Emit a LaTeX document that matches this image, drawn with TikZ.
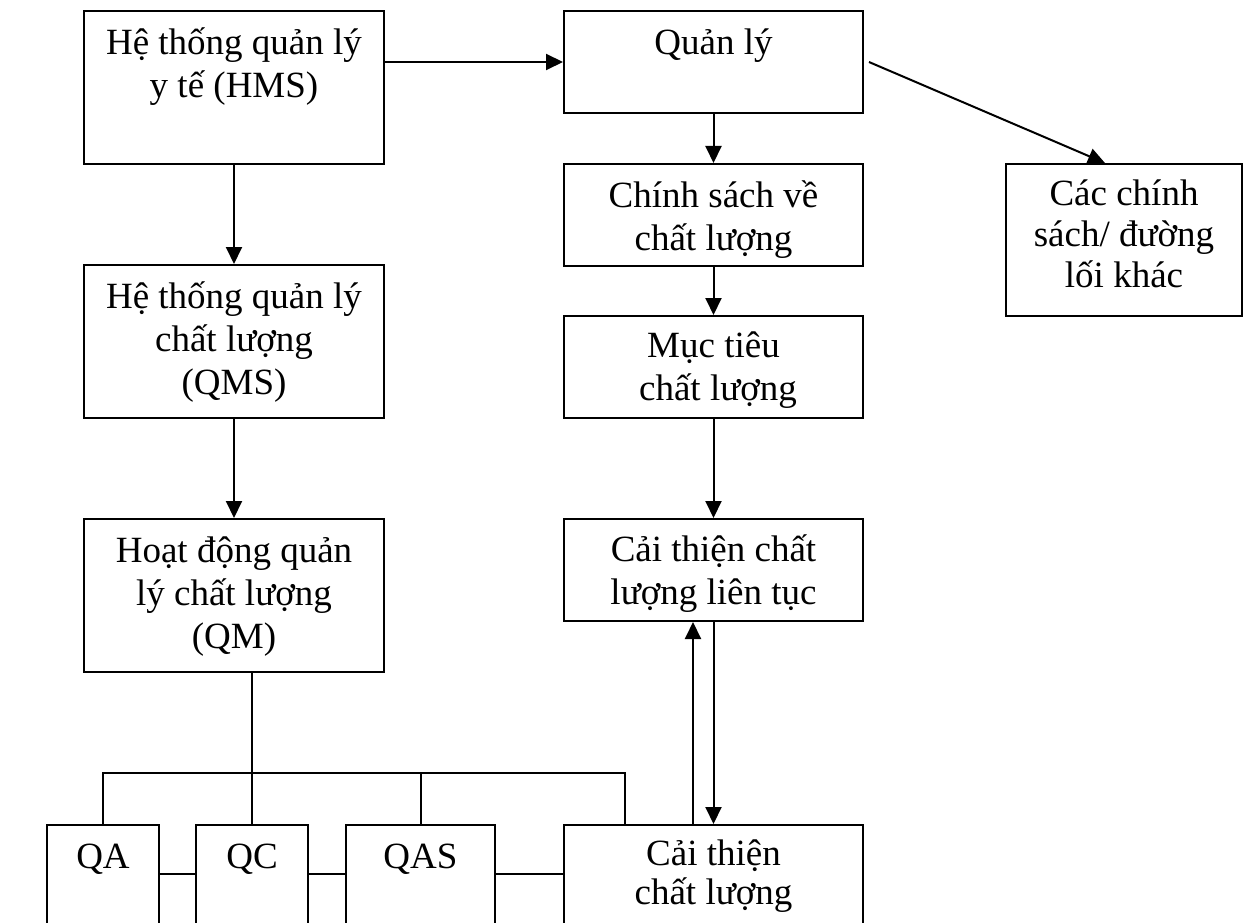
\documentclass[tikz,border=0pt]{standalone}
\usepackage{fontspec}
\setmainfont{Liberation Serif}
\usetikzlibrary{arrows.meta,calc}
% strut that fixes the height of the first text line in every box
\newcommand\firstline{\rule{0pt}{40pt}}
\begin{document}
\begin{tikzpicture}[x=1pt,y=-1pt,
  box/.style={draw, line width=2pt, rectangle, anchor=north west, inner sep=0pt},
  lbl/.style={anchor=north, inner sep=0pt, align=center, font=\fontsize{37}{43}\selectfont},
  conn/.style={line width=2pt},
  arr/.style={line width=2pt, -{Triangle[length=17pt,width=16pt]}}]
\useasboundingbox (0,0) rectangle (1245,923);
\clip (0,0) rectangle (1245,923);
\fill[white] (0,0) rectangle (1245,923);

% left column
\node[box, minimum width=300pt, minimum height=153pt] (hms) at (83,10) {};
\node[box, minimum width=300pt, minimum height=153pt] (qms) at (83,264) {};
\node[box, minimum width=300pt, minimum height=153pt] (hm)  at (83,518) {};

% right column
\node[box, minimum width=299pt, minimum height=102pt] (ql)   at (563,10) {};
\node[box, minimum width=299pt, minimum height=102pt] (cs)   at (563,163) {};
\node[box, minimum width=299pt, minimum height=102pt] (mt)   at (563,315) {};
\node[box, minimum width=299pt, minimum height=102pt] (ctlt) at (563,518) {};
\node[box, minimum width=236pt, minimum height=152pt] (ccs)  at (1005,163) {};

% bottom row (runs off the lower edge)
\node[box, minimum width=112pt, minimum height=200pt] (qa)   at (46,824) {};
\node[box, minimum width=112pt, minimum height=200pt] (qc)   at (195,824) {};
\node[box, minimum width=149pt, minimum height=200pt] (qas)  at (345,824) {};
\node[box, minimum width=299pt, minimum height=200pt] (ctcl) at (563,824) {};

% texts
\node[lbl] at ([yshift=-4pt]hms.north) {\firstline Hệ thống quản lý\\y tế (HMS)};
\node[lbl] at ([yshift=-4pt]qms.north) {\firstline Hệ thống quản lý\\chất lượng\\(QMS)};
\node[lbl] at ([yshift=-4pt]hm.north) {\firstline Hoạt động quản\\lý chất lượng\\(QM)};
\node[lbl] at ([yshift=-4pt]ql.north) {\firstline Quản lý};
\node[lbl] at ([yshift=-4pt]cs.north) {\firstline Chính sách về\\chất lượng};
\node[lbl] at ([yshift=-2pt]mt.north) {\firstline Mục tiêu\\\hspace*{9pt}chất lượng};
\node[lbl] at ([yshift=-3pt]ctlt.north) {\firstline Cải thiện chất\\lượng liên tục};
\node[lbl, font=\fontsize{37}{41}\selectfont] at ([yshift=-2pt]ccs.north) {\firstline Các chính\\sách/ đường\\lối khác};
\node[lbl] at ([yshift=-4pt]qa.north) {\firstline QA};
\node[lbl] at ([yshift=-4pt]qc.north) {\firstline QC};
\node[lbl] at ([yshift=-4pt]qas.north) {\firstline QAS};
\node[lbl, font=\fontsize{37}{39}\selectfont] at ([yshift=-1pt]ctcl.north) {\firstline Cải thiện\\chất lượng};

% arrows
\draw[arr] (hms.east |- ql.west) -- (ql.west);
\draw[arr] (hms.south) -- (qms.north);
\draw[arr] (qms.south) -- (hm.north);
\draw[arr] (ql.south) -- (cs.north);
\draw[arr] (cs.south) -- (mt.north);
\draw[arr] (mt.south) -- (ctlt.north);
\draw[arr] ([xshift=5pt]ql.east) -- ($(ccs.north west)!0.42!(ccs.north east)$);
\coordinate (up) at (693,0);
\draw[arr] (ctcl.north -| up) -- (ctlt.south -| up);
\draw[arr] (ctlt.south) -- (ctcl.north);

% distribution bus
\coordinate (busR) at (625,773);
\draw[conn] (hm.south -| qc.north) -- (qc.north);
\draw[conn] (qa.north) |- (busR) -- (busR |- ctcl.north);
\draw[conn] (qas.north) -- (qas.north |- busR);

% side links between the bottom boxes
\coordinate (lk) at (0,874);
\draw[conn] (qa.north east |- lk) -- (qc.north west |- lk);
\draw[conn] (qc.north east |- lk) -- (qas.north west |- lk);
\draw[conn] (qas.north east |- lk) -- (ctcl.north west |- lk);
\end{tikzpicture}
\end{document}
